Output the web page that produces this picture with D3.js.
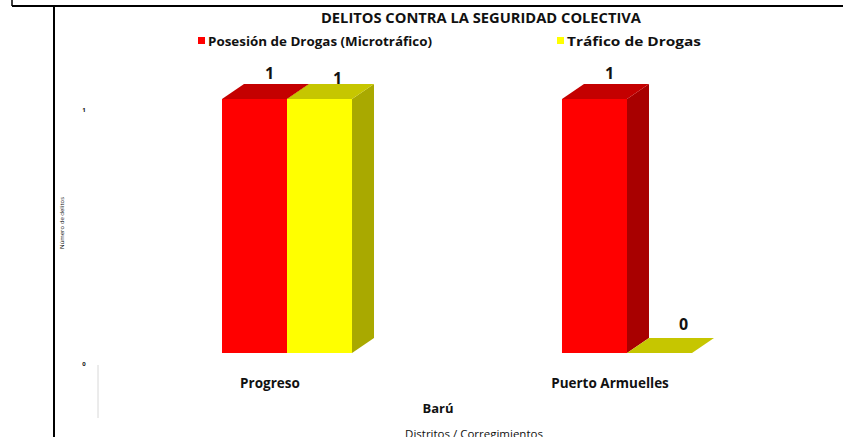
<!DOCTYPE html>
<html>
<head>
<meta charset="utf-8">
<script src="https://cdn.jsdelivr.net/npm/d3@7"></script>
<style>
  body { margin: 0; background: #fff; }
  svg text { font-family: "Open Sans", Lato, sans-serif; fill: #111; }
</style>
</head>
<body>
<div id="chart"></div>
<script>

// data
var categories = ["Progreso", "Puerto Armuelles"],
    seriesNames = ["Posesión de Drogas (Microtráfico)", "Tráfico de Drogas"],
    seriesValues = [[1, 1], [1, 0]],   // [category][series]
    yTicks = [0, 1];

var frontColors = ["#ff0000", "#ffff00"],
    topColors   = ["#c40000", "#c6c600"],
    sideColors  = ["#a80000", "#a9a900"];

var width = 843, height = 437;

var svg = d3.select("#chart").append("svg")
            .attr("width", width).attr("height", height);

// frame lines from the original document
svg.append("line").attr("x1", 12).attr("x2", 12).attr("y1", 0).attr("y2", 6)
   .attr("stroke", "#000").attr("stroke-width", 1.5);
svg.append("line").attr("x1", 12).attr("x2", width).attr("y1", 6).attr("y2", 6)
   .attr("stroke", "#000").attr("stroke-width", 2);
svg.append("line").attr("x1", 54).attr("x2", 54).attr("y1", 6).attr("y2", height)
   .attr("stroke", "#000").attr("stroke-width", 2);

// scales
var x0 = d3.scaleBand().domain(categories).range([222, 692]).paddingInner(0.6176).paddingOuter(0),
    x1 = d3.scaleBand().domain(d3.range(seriesNames.length)).range([0, x0.bandwidth()]),
    y  = d3.scaleLinear().domain([0, 1]).range([353, 99]);

var dx = 22, dy = -15;   // 3d depth offset

// title
svg.append("text").attr("x", 481).attr("y", 23)
   .attr("text-anchor", "middle").attr("font-weight", "bold").attr("font-size", 14.5)
   .attr("textLength", 320).attr("lengthAdjust", "spacingAndGlyphs")
   .text("DELITOS CONTRA LA SEGURIDAD COLECTIVA");

// legend
var legendX = [198, 557],
    legendLen = [224, 134];
var legend = svg.selectAll(".legend").data(seriesNames).enter().append("g")
                .attr("class", "legend")
                .attr("transform", function(d, i) { return "translate(" + legendX[i] + ",41)"; });
legend.append("rect").attr("x", 0).attr("y", -4).attr("width", 7).attr("height", 7)
      .attr("fill", function(d, i) { return frontColors[i]; });
legend.append("text").attr("x", 10).attr("y", 4.5)
      .attr("font-weight", "bold").attr("font-size", 12.5)
      .attr("textLength", function(d, i) { return legendLen[i]; })
      .attr("lengthAdjust", "spacingAndGlyphs")
      .text(function(d) { return d; });

// y axis (tiny labels, like the original)
svg.selectAll(".ytick").data(yTicks).enter().append("text")
   .attr("class", "ytick")
   .attr("x", 84).attr("y", function(d) { return y(d) + 13; })
   .attr("text-anchor", "middle").attr("font-size", 6).attr("font-weight", "bold")
   .text(function(d) { return d; });

svg.append("line").attr("x1", 98).attr("x2", 98).attr("y1", 365).attr("y2", 418)
   .attr("stroke", "#d8d8d8").attr("stroke-width", 1);

svg.append("text")
   .attr("transform", "translate(64,223) rotate(-90)")
   .attr("text-anchor", "middle").attr("font-size", 6)
   .text("Número de delitos");

// bars
var groups = svg.selectAll(".group").data(categories).enter().append("g")
                .attr("class", "group")
                .attr("transform", function(d) { return "translate(" + x0(d) + ",0)"; });

groups.each(function(cat, ci) {
  var g = d3.select(this);
  var vals = seriesValues[ci];
  vals.forEach(function(v, si) {
    var bx = x1(si), bw = x1.bandwidth(), top = y(v), base = y(0);
    // side face
    g.append("path")
     .attr("d", "M" + (bx + bw) + "," + top + "L" + (bx + bw + dx) + "," + (top + dy) +
                "L" + (bx + bw + dx) + "," + (base + dy) + "L" + (bx + bw) + "," + base + "Z")
     .attr("fill", sideColors[si]);
    // front face
    g.append("rect").attr("x", bx).attr("y", top).attr("width", bw).attr("height", base - top)
     .attr("fill", frontColors[si]);
    // top face
    g.append("path")
     .attr("d", "M" + bx + "," + top + "L" + (bx + dx) + "," + (top + dy) +
                "L" + (bx + bw + dx) + "," + (top + dy) + "L" + (bx + bw) + "," + top + "Z")
     .attr("fill", topColors[si]);
    // value label
    g.append("text")
     .attr("x", bx + bw / 2 + dx / 2 + (v > 0 ? (si === 0 ? 4 : 7) : 13))
     .attr("y", top + dy - (v > 0 ? (si === 0 ? 5 : 0) : 8))
     .attr("text-anchor", "middle").attr("font-weight", "bold").attr("font-size", 16)
     .text(v);
  });
  // category label
  g.append("text").attr("x", x0.bandwidth() / 2 - 17).attr("y", 388)
   .attr("text-anchor", "middle").attr("font-weight", "bold").attr("font-size", 13.5)
   .text(cat);
});

// axis group labels
svg.append("text").attr("x", 438).attr("y", 413)
   .attr("text-anchor", "middle").attr("font-weight", "bold").attr("font-size", 13)
   .text("Barú");
svg.append("text").attr("x", 474).attr("y", 438)
   .attr("text-anchor", "middle").attr("font-size", 11.5)
   .text("Distritos / Corregimientos");

</script>
</body>
</html>
